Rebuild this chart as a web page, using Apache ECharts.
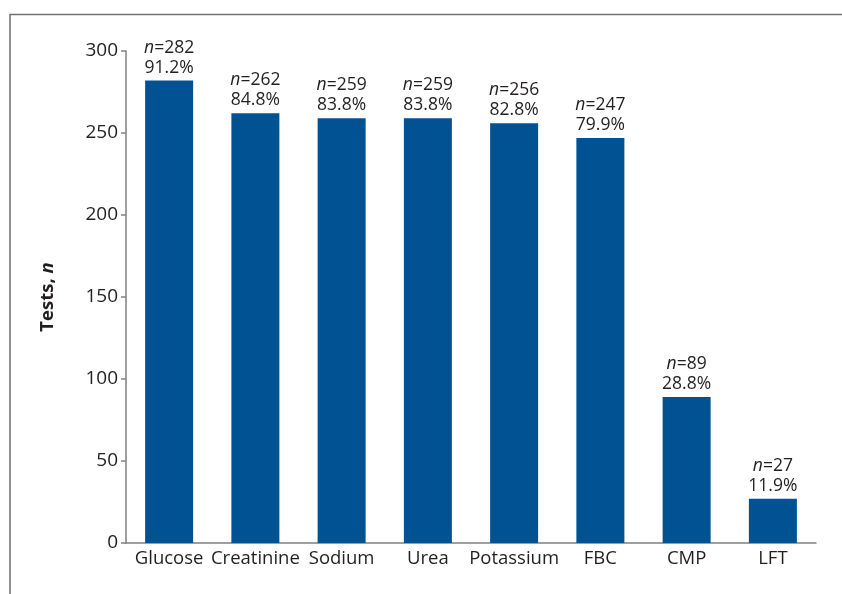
<!DOCTYPE html>
<html><head><meta charset="utf-8">
<script src="https://cdn.jsdelivr.net/npm/echarts@6/dist/echarts.min.js"></script>
<style>html,body{margin:0;padding:0;background:#fff}#c{width:842px;height:594px}</style>
</head><body><div id="c"></div>
<script>
const categories = ['Glucose','Creatinine','Sodium','Urea','Potassium','FBC','CMP','LFT'];
const counts = [282,262,259,259,256,247,89,27];
const percents = ['91.2%','84.8%','83.8%','83.8%','82.8%','79.9%','28.8%','11.9%'];
const yTicks = [0,50,100,150,200,250,300];

const font = '"Open Sans", "Noto Sans", sans-serif';
const textColor = '#231f20';
const chart = echarts.init(document.getElementById('c'), null, {renderer:'canvas'});
chart.setOption({
  animation:false,
  backgroundColor:'#fff',
  grid:{left:126,right:26,top:51,bottom:51,containLabel:false},
  xAxis:{
    type:'category', data:categories,
    axisLine:{lineStyle:{color:'#808080',width:1.5}},
    axisTick:{show:false},
    axisLabel:{color:textColor,fontSize:18.5,fontFamily:font,margin:6,interval:0}
  },
  yAxis:{
    type:'value', min:yTicks[0], max:yTicks[yTicks.length-1], interval:50,
    name:'{b|Tests, }{bi|n}',
    nameLocation:'middle', nameGap:69,
    nameTextStyle:{color:textColor,fontSize:18.5,fontWeight:'bold',fontFamily:font,
      rich:{
        b:{fontSize:18.5,fontWeight:'bold',fontFamily:font,color:textColor},
        bi:{fontSize:18.5,fontWeight:'bold',fontStyle:'italic',fontFamily:font,color:textColor}
      }},
    axisLine:{show:true,lineStyle:{color:'#808080',width:1.5}},
    axisTick:{show:true,length:5,lineStyle:{color:'#808080',width:1.5}},
    splitLine:{show:false},
    axisLabel:{color:textColor,fontSize:19,fontFamily:font,margin:8}
  },
  series:[{
    type:'bar', data:counts, barWidth:48,
    itemStyle:{color:'#005293'},
    label:{
      show:true, position:'top', distance:3,
      formatter:(p)=>'{i|n}{t|='+p.value+'}\n{t|'+percents[p.dataIndex]+'}',
      rich:{
        i:{fontStyle:'italic',fontSize:17.5,fontFamily:font,color:textColor,lineHeight:20},
        t:{fontSize:17.5,fontFamily:font,color:textColor,lineHeight:20}
      }
    }
  }],
  graphic:[
    {type:'polyline',shape:{points:[[10,594],[10,14.5],[842,14.5]]},
     style:{stroke:'#707070',lineWidth:1.5,fill:null},silent:true}
  ]
});
</script></body></html>
